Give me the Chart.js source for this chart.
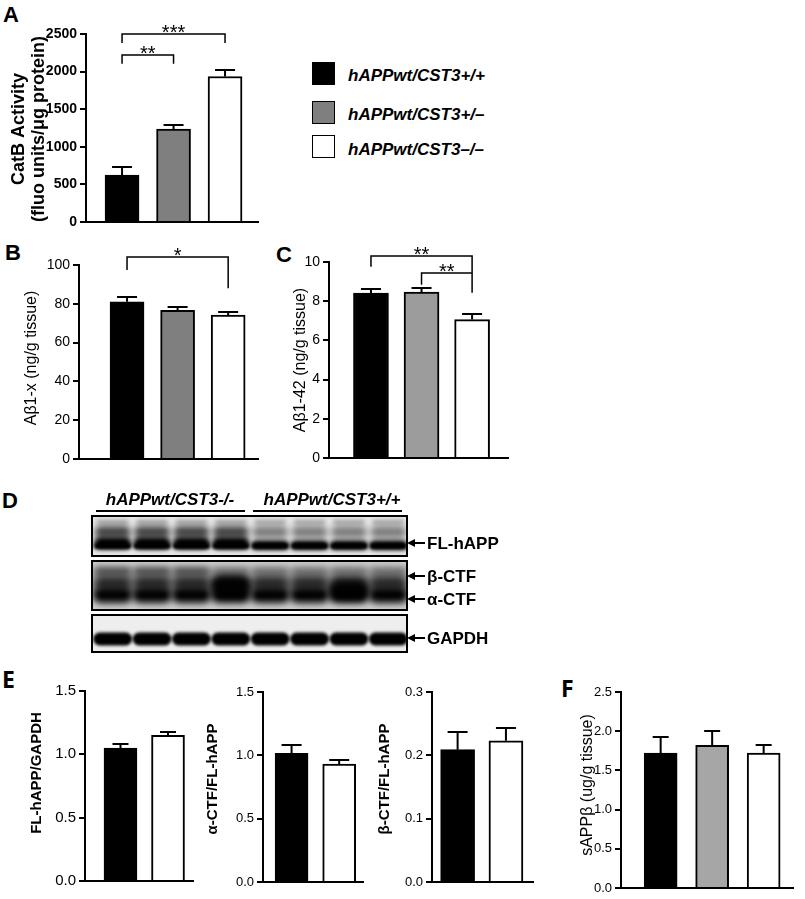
<!DOCTYPE html>
<html>
<head>
<meta charset="utf-8">
<script src="https://cdn.jsdelivr.net/npm/chart.js@4.4.1/dist/chart.umd.min.js"></script>
<style>
  body { margin:0; width:805px; height:899px; position:relative; overflow:hidden; background:#fff;
         font-family:"Liberation Sans", Arial, sans-serif; color:#000; }
  canvas, .t { position:absolute; }
  .t { white-space:nowrap; line-height:1; }
  .pl { font-weight:bold; font-size:22px; }
  .pl2 { font-family:"Open Sans", sans-serif; font-weight:bold; font-size:23px; }
  .lg { font-weight:bold; font-style:italic; font-size:17px; }
  .sw { position:absolute; width:23px; height:23px; box-sizing:border-box; border:1.5px solid #000; }
  .bl { font-weight:bold; font-size:17px; }
</style>
</head>
<body>

<div class="t pl" style="left:3px;top:4px">A</div>
<div class="t pl" style="left:5px;top:242px">B</div>
<div class="t pl" style="left:276px;top:244px">C</div>
<div class="t pl" style="left:2px;top:490px">D</div>
<div class="t pl2" style="left:2px;top:668px">E</div>
<div class="t pl2" style="left:561px;top:677px">F</div>

<!-- legend -->
<div class="sw" style="left:312px;top:62px;background:#000"></div>
<div class="sw" style="left:312px;top:101px;background:#7f7f7f"></div>
<div class="sw" style="left:312px;top:135px;background:#fff"></div>
<div class="t lg" style="left:348px;top:67px">hAPPwt/CST3+/+</div>
<div class="t lg" style="left:348px;top:106px">hAPPwt/CST3+/–</div>
<div class="t lg" style="left:348px;top:141px">hAPPwt/CST3–/–</div>

<!-- western blot -->
<canvas id="blot" width="345" height="160" style="left:85px;top:505px"></canvas>
<div class="t lg" style="left:170px;top:491px;transform:translateX(-50%)">hAPPwt/CST3-/-</div>
<div class="t lg" style="left:332px;top:491px;transform:translateX(-50%)">hAPPwt/CST3+/+</div>
<div class="t bl" style="left:427px;top:535px">FL-hAPP</div>
<div class="t bl" style="left:427px;top:568px">β-CTF</div>
<div class="t bl" style="left:427px;top:591px">α-CTF</div>
<div class="t bl" style="left:427px;top:630px">GAPDH</div>

<script>
// ═══ DATA ═══
const groups = ['hAPPwt/CST3+/+', 'hAPPwt/CST3+/–', 'hAPPwt/CST3–/–'];
const groupsE = ['hAPPwt/CST3+/+', 'hAPPwt/CST3–/–'];

// A: CatB activity
const catbMean = [625, 1235, 1935];
const catbErr  = [110, 55, 90];
const catbAxis = [0, 2500, 500];            // min, max, step
// B: Aβ1-x
const ab1xMean = [81, 76.6, 74.2];
const ab1xErr  = [2.4, 1.8, 1.6];
const ab1xAxis = [0, 100, 20];
// C: Aβ1-42
const ab42Mean = [8.42, 8.47, 7.06];
const ab42Err  = [0.22, 0.2, 0.31];
const ab42Axis = [0, 10, 2];
// E: blot quantification (+/+ vs -/-)
const flMean   = [1.05, 1.15];
const flErr    = [0.035, 0.025];
const actfMean = [1.015, 0.93];
const actfErr  = [0.065, 0.03];
const bctfMean = [0.209, 0.223];
const bctfErr  = [0.028, 0.02];
const ratioAxis = [0, 1.5, 0.5];
const bctfAxis  = [0, 0.3, 0.1];
// F: sAPPβ
const sappMean = [1.72, 1.82, 1.72];
const sappErr  = [0.2, 0.18, 0.1];
const sappAxis = [0, 2.5, 0.5];

// significance: [from bar, to bar, label, bracket level, left end, right end]
const sigA = [[0, 1, '**', 2223, 2103, 2103], [0, 2, '***', 2503, 2379, 2379]];
const sigB = [[0, 2, '*', 104, 97.4, 88]];
const sigC = [[0, 2, '**', 10.32, 9.76, 9.45], [1, 2, '**', 9.45, 8.84, 8.43]];

// ═══ PLUGIN: error caps, brackets, axis title ═══
function errPlugin(p, left, top) {
  return {
    id: 'err',
    afterDatasetsDraw(chart) {
      const ctx = chart.ctx, ys = chart.scales.y, bars = chart.getDatasetMeta(0).data;
      ctx.save();
      ctx.strokeStyle = '#000'; ctx.lineWidth = 2;
      bars.forEach((b, i) => {
        const t = Math.round(ys.getPixelForValue(p.means[i] + p.errs[i]));
        ctx.beginPath();
        ctx.moveTo(b.x, b.y); ctx.lineTo(b.x, t);
        ctx.moveTo(b.x - p.cap, t); ctx.lineTo(b.x + p.cap, t);
        ctx.stroke();
      });
      ctx.lineWidth = 1.5; ctx.fillStyle = '#000';
      ctx.font = '20px "Liberation Sans"'; ctx.textAlign = 'center';
      (p.sig || []).forEach(([a, z, lab, yt, ya, yz]) => {
        const xa = bars[a].x, xz = bars[z].x, py = Math.round(ys.getPixelForValue(yt));
        ctx.beginPath();
        ctx.moveTo(xa, ys.getPixelForValue(ya)); ctx.lineTo(xa, py);
        ctx.lineTo(xz, py); ctx.lineTo(xz, ys.getPixelForValue(yz));
        ctx.stroke();
        ctx.fillText(lab, (xa + xz) / 2, py + 5);
      });
      // rotated y title, drawn by hand so it is not squeezed to the axis height
      const f = p.titleFont, lines = [].concat(p.title);
      ctx.font = (f.weight || 'normal') + ' ' + f.size + 'px "Liberation Sans"';
      ctx.textBaseline = 'middle';
      ctx.translate(p.tx - left, p.ty - top);
      ctx.rotate(-Math.PI / 2);
      lines.forEach((l, k) => ctx.fillText(l, 0, k * f.lh));
      ctx.restore();
    }
  };
}

// ═══ BAR PANEL ═══
function barChart(p) {
  const left = p.axis - p.yw, top = p.top - p.padTop, padB = 12, padR = 4;
  const cv = document.createElement('canvas');
  cv.width = Math.round(p.right - left + padR);
  cv.height = Math.round(p.bottom - p.top + p.padTop + padB);
  cv.style.left = left + 'px';
  cv.style.top = top + 'px';
  document.body.appendChild(cv);
  new Chart(cv, {
    type: 'bar',
    data: {
      labels: p.labels,
      datasets: [{
        data: p.means.map((v, i) => ({ x: i + 1, y: v })),
        backgroundColor: p.colors, borderColor: '#000', borderWidth: 2,
        barThickness: p.bw, borderSkipped: 'bottom'
      }]
    },
    options: {
      responsive: false, animation: false, events: [],
      layout: { padding: { top: p.padTop, bottom: padB, left: 0, right: padR } },
      plugins: { legend: { display: false }, tooltip: { enabled: false } },
      scales: {
        x: {
          type: 'linear', offset: false, min: p.xr[0], max: p.xr[1],
          ticks: { display: false }, grid: { display: false },
          border: { color: '#000', width: 2 },
          afterFit: s => { s.height = 0; }
        },
        y: {
          min: p.range[0], max: p.range[1],
          ticks: { stepSize: p.range[2], color: '#000', font: p.tickFont, padding: 3,
                   callback: v => p.dec ? v.toFixed(p.dec) : String(v) },
          grid: { drawOnChartArea: false, color: '#000', lineWidth: 2, tickLength: 6 },
          border: { color: '#000', width: 2 },
          title: { display: false },
          afterFit: s => { s.width = p.yw; }
        }
      }
    },
    plugins: [errPlugin(p, left, top)]
  });
}

const C3a = ['#000', '#7f7f7f', '#fff'];
const C3b = ['#000', '#9c9c9c', '#fff'];
const C3c = ['#000', '#a6a6a6', '#fff'];
const C2 = ['#000', '#fff'];

barChart({ labels: groups, means: catbMean, errs: catbErr, range: catbAxis, sig: sigA, colors: C3a,
  axis: 86, top: 34, bottom: 222, right: 258, yw: 80, padTop: 34, xr: [0.30, 3.64], bw: 34, cap: 10,
  title: ['CatB Activity', '(fluo units/μg protein)'], tx: 19, ty: 129,
  titleFont: { size: 18, weight: 'bold', lh: 20 },
  tickFont: { family: 'Liberation Sans', size: 14, weight: 'bold' } });

barChart({ labels: groups, means: ab1xMean, errs: ab1xErr, range: ab1xAxis, sig: sigB, colors: C3a,
  axis: 79, top: 265, bottom: 459, right: 258, yw: 60, padTop: 26, xr: [0.05, 3.59], bw: 34, cap: 10,
  title: 'Aβ1-x (ng/g tissue)', tx: 32, ty: 358,
  titleFont: { size: 16, lh: 18 },
  tickFont: { family: 'Liberation Sans', size: 14 } });

barChart({ labels: groups, means: ab42Mean, errs: ab42Err, range: ab42Axis, sig: sigC, colors: C3b,
  axis: 329, top: 262, bottom: 458, right: 508, yw: 40, padTop: 22, xr: [0.17, 3.71], bw: 35, cap: 10,
  title: 'Aβ1-42 (ng/g tissue)', tx: 301, ty: 360,
  titleFont: { size: 16, lh: 18 },
  tickFont: { family: 'Liberation Sans', size: 14 } });

barChart({ labels: groupsE, means: flMean, errs: flErr, range: ratioAxis, colors: C2, dec: 1,
  axis: 85, top: 691, bottom: 881, right: 193, yw: 60, padTop: 12, xr: [0.253, 2.526], bw: 33, cap: 8,
  title: 'FL-hAPP/GAPDH', tx: 37, ty: 773,
  titleFont: { size: 15, weight: 'bold', lh: 18 },
  tickFont: { family: 'Liberation Sans', size: 15 } });

barChart({ labels: groupsE, means: actfMean, errs: actfErr, range: ratioAxis, colors: C2, dec: 1,
  axis: 263, top: 692, bottom: 882, right: 363, yw: 60, padTop: 12, xr: [0.40, 2.50], bw: 33, cap: 10,
  title: 'α-CTF/FL-hAPP', tx: 213, ty: 779,
  titleFont: { size: 15, weight: 'bold', lh: 18 },
  tickFont: { family: 'Liberation Sans', size: 13 } });

barChart({ labels: groupsE, means: bctfMean, errs: bctfErr, range: bctfAxis, colors: C2, dec: 1,
  axis: 432, top: 692, bottom: 882, right: 533, yw: 58, padTop: 12, xr: [0.47, 2.56], bw: 34, cap: 10,
  title: 'β-CTF/FL-hAPP', tx: 385, ty: 779,
  titleFont: { size: 15, weight: 'bold', lh: 18 },
  tickFont: { family: 'Liberation Sans', size: 13 } });

barChart({ labels: groups, means: sappMean, errs: sappErr, range: sappAxis, colors: C3c, dec: 1,
  axis: 621, top: 692, bottom: 888, right: 793, yw: 45, padTop: 12, xr: [0.23, 3.57], bw: 33, cap: 8,
  title: 'sAPPβ (ug/g tissue)', tx: 588, ty: 785,
  titleFont: { size: 16, lh: 18 },
  tickFont: { family: 'Liberation Sans', size: 13 } });

// ═══ BLOT (picture, not data) ═══
function drawBlot() {
  const ctx = document.getElementById('blot').getContext('2d');
  ctx.translate(-85, -505);
  const x0 = 92, x1 = 407, lw = (x1 - x0) / 8;
  const lane = i => x0 + lw * (i + 0.5) + 1;
  function band(cx, cy, w, h, a, b) {
    ctx.filter = 'blur(' + b + 'px)';
    ctx.fillStyle = 'rgba(0,0,0,' + a + ')';
    ctx.beginPath(); ctx.roundRect(cx - w / 2, cy - h / 2, w, h, h / 2); ctx.fill();
  }
  function box(y0, y1, bg, draw) {
    ctx.save();
    ctx.beginPath(); ctx.rect(x0, y0, x1 - x0, y1 - y0); ctx.clip();
    ctx.fillStyle = bg; ctx.fillRect(x0, y0, x1 - x0, y1 - y0);
    draw();
    ctx.restore();
    ctx.filter = 'none';
    ctx.lineWidth = 2; ctx.strokeStyle = '#000';
    ctx.strokeRect(x0, y0, x1 - x0, y1 - y0);
  }
  box(516, 556, '#e6e6e6', () => {
    for (let i = 0; i < 8; i++) {
      const c = lane(i), L = i < 4;
      band(c, 522, 32, 4, 0.3, 2);
      band(c, 532, 36, 12, L ? 0.7 : 0.45, 3);
      band(c, L ? 543 : 545, 37, L ? 12 : 9, 1, 2.5);
      band(c, 546, 37, 6, 1, 1.5);
    }
  });
  box(561, 610, '#cfcfcf', () => {
    for (let i = 0; i < 8; i++) {
      const c = lane(i), L = i < 3;
      band(c, 571, 38, 8, L ? 0.65 : 0.45, 3.5);
      band(c, 583, 40, 16, 0.8, 4);
      band(c, 595, 40, 16, 1, 3.5);
    }
    band(lane(3), 586, 40, 20, 0.95, 3.5);
    band(lane(6), 590, 40, 18, 0.95, 3.5);
  });
  box(615, 652, '#eeeeee', () => {
    for (let i = 0; i < 8; i++) band(lane(i), 639, 39, 13, 1, 1.8);
  });
  ctx.filter = 'none';
  ctx.fillStyle = '#000';
  ctx.fillRect(96, 510, 149, 2);
  ctx.fillRect(253, 510, 149, 2);
  [543, 576, 599, 638].forEach(y => {
    ctx.fillRect(412, y - 1, 13, 2);
    ctx.beginPath(); ctx.moveTo(407, y); ctx.lineTo(415, y - 4); ctx.lineTo(415, y + 4); ctx.closePath(); ctx.fill();
  });
}
drawBlot();
</script>
</body>
</html>
